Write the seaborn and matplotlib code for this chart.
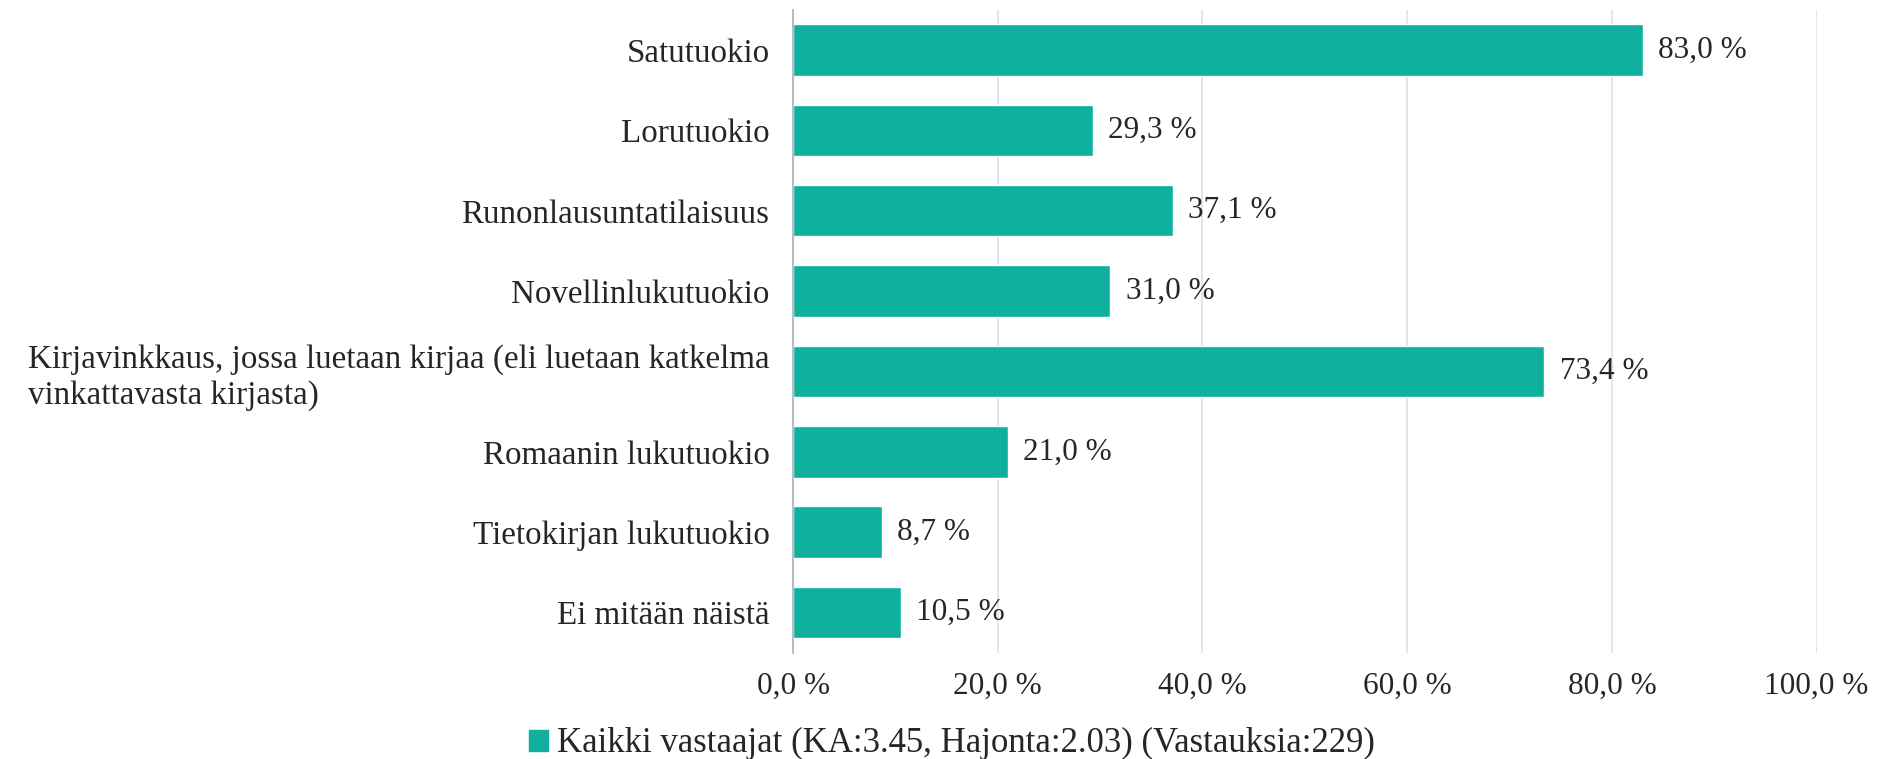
import numpy as np
import pandas as pd
import matplotlib
matplotlib.use("Agg")
import matplotlib.pyplot as plt
import seaborn as sns

categories = [
    "Satutuokio",
    "Lorutuokio",
    "Runonlausuntatilaisuus",
    "Novellinlukutuokio",
    "Kirjavinkkaus, jossa luetaan kirjaa (eli luetaan katkelma\nvinkattavasta kirjasta)",
    "Romaanin lukutuokio",
    "Tietokirjan lukutuokio",
    "Ei mitään näistä",
]
values = [83.0, 29.3, 37.1, 31.0, 73.4, 21.0, 8.7, 10.5]
x_ticks = [0, 20, 40, 60, 80, 100]
series_name = "Kaikki vastaajat (KA:3.45, Hajonta:2.03) (Vastauksia:229)"

df = pd.DataFrame({"kategoria": categories, "arvo": values})

sns.set_style("white")
plt.rcParams["font.family"] = ["Liberation Serif", "DejaVu Serif"]

fs = 22.5
bar_color = "#10b09f"
fig = plt.figure(figsize=(18.78, 7.59), dpi=100)
ax = fig.add_axes([0.4223, 0.140, 0.545, 0.847])

sns.barplot(data=df, y="kategoria", x="arvo", color=bar_color, width=0.64,
            saturation=1, ax=ax, zorder=3)

ax.set_xlim(0, 100)
ax.set_ylim(len(categories) - 0.5, -0.5)
ax.set_xticks(x_ticks)
ax.set_xticklabels([f"{t:.1f} %".replace(".", ",") for t in x_ticks], fontsize=fs)
ax.tick_params(axis="x", length=0, pad=14)
ax.tick_params(axis="y", length=0, pad=17, labelsize=23.8)
for lbl in ax.get_yticklabels():
    lbl.set_multialignment("left")

ax.set_xlabel("")
ax.set_ylabel("")
ax.grid(axis="x", color="#dce3ee", linewidth=1.2, zorder=0)
for s in ["top", "right", "bottom"]:
    ax.spines[s].set_visible(False)
ax.spines["left"].set_color("#a7b0bd")
ax.spines["left"].set_linewidth(1.2)
ax.spines["left"].set_zorder(4)

for cont in ax.containers:
    ax.bar_label(cont, labels=[f"{v:.1f} %".replace(".", ",") for v in values],
                 padding=11, fontsize=fs)

handle = plt.Rectangle((0, 0), 1, 1, color=bar_color)
fig.legend([handle], [series_name], loc="center", bbox_to_anchor=(0.507, 0.02),
           frameon=False, fontsize=25, handlelength=0.55, handleheight=0.55,
           handletextpad=0.25)

fig.savefig("out.png", dpi=100)
